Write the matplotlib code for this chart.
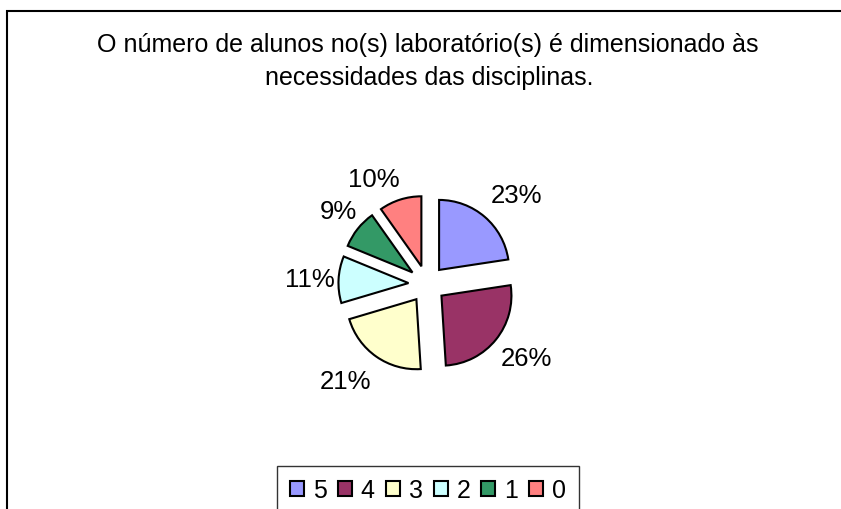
import numpy as np
import matplotlib.pyplot as plt
from matplotlib.patches import Rectangle

plt.rcParams["font.family"] = ["Liberation Sans", "DejaVu Sans"]

# answer categories and their share of responses (%)
categories = ["5", "4", "3", "2", "1", "0"]
shares = [22.6, 26.4, 21.4, 10.8, 9.0, 9.8]
colors = ["#9999FF", "#993366", "#FFFFCC", "#CCFFFF", "#339966", "#FF8080"]
title_lines = ["O número de alunos no(s) laboratório(s) é dimensionado às",
               "necessidades das disciplinas."]

W, H = 841, 510
fig = plt.figure(figsize=(W / 100, H / 100), dpi=100)
ax = fig.add_axes([0, 0, 1, 1])
ax.set_xlim(0, W)
ax.set_ylim(0, H)
ax.axis("off")

# chart area border (runs off the right and bottom of the image)
ax.add_patch(Rectangle((7.5, -20), 900, H - 12 + 20, fill=False,
                       edgecolor="black", linewidth=1.5))

radius = 70
wedges, texts, autotexts = ax.pie(
    shares, colors=colors, startangle=90, counterclock=False,
    center=(427, H - 285), radius=radius, explode=[0.265 * radius] * len(shares),
    autopct="%1.0f%%", pctdistance=1.5,
    wedgeprops=dict(edgecolor="black", linewidth=1.5),
    textprops=dict(fontsize=18.5, color="black"),
)

# excel places the labels a bit off the wedge bisector
label_dist = [1.54, 1.50, 1.54, 1.41, 1.38, 1.42]
label_turn = [-5, 2.5, -6, 0.5, -1, 11]
for w, t, d, a in zip(wedges, autotexts, label_dist, label_turn):
    th = np.deg2rad((w.theta1 + w.theta2) / 2 + a)
    cx, cy = w.center
    t.set_position((cx + d * radius * np.cos(th), cy + d * radius * np.sin(th)))

ax.set_xlim(0, W)
ax.set_ylim(0, H)
ax.set_aspect("auto")

ax.text(428, H - 45, title_lines[0], ha="center", va="center", fontsize=18)
ax.text(429, H - 78, title_lines[1], ha="center", va="center", fontsize=18)

leg = ax.legend(wedges, categories, loc="upper center",
                bbox_to_anchor=(428 / W, 1 - 467 / H), ncol=6,
                fontsize=18, frameon=True, fancybox=False,
                edgecolor="black", handlelength=0.56, handleheight=0.56,
                handletextpad=0.36, columnspacing=0.44, borderpad=0.5,
                borderaxespad=0)
leg.get_frame().set_linewidth(1.0)

fig.savefig("out.png", dpi=100)
